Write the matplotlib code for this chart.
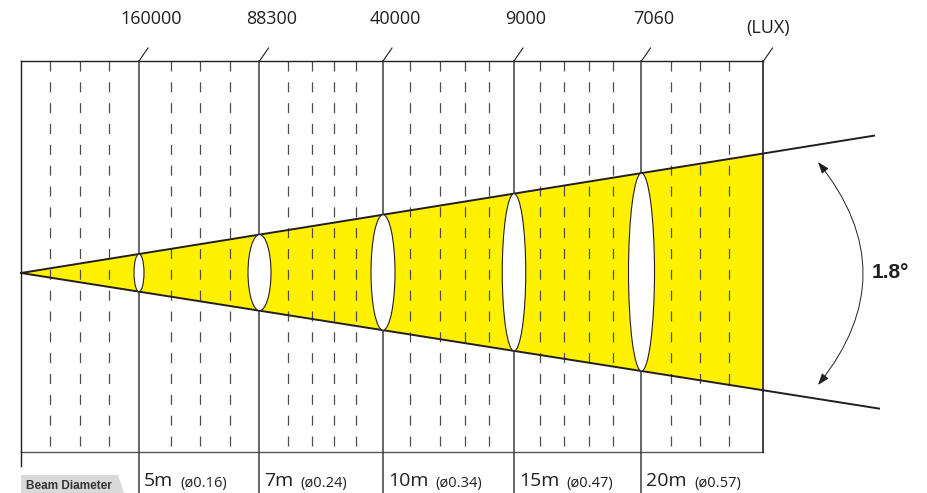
import matplotlib.pyplot as plt
from matplotlib.patches import Polygon, Ellipse

plt.rcParams["font.family"] = ["Open Sans", "DejaVu Sans"]
plt.rcParams["lines.scale_dashes"] = False

# chart content
lux = ["160000", "88300", "40000", "9000", "7060"]
lux_unit = "(LUX)"
distances = ["5m", "7m", "10m", "15m", "20m"]
diameters = ["(ø0.16)", "(ø0.24)", "(ø0.34)", "(ø0.47)", "(ø0.57)"]
beam_angle = "1.8°"
row_title = "Beam Diameter"

# layout, in pixels of the 927x493 canvas
col_x = [139, 259.5, 383, 514, 641.5]
left_x, right_x = 21, 763.5
top_y, bottom_y = 61, 451.5
dash_x = [50.5, 80, 109.5, 171, 200.5, 230, 288, 312, 334, 356,
          410, 440, 465, 489, 540, 564, 589, 613, 671, 700.5, 729.5]
ring_w = [10, 23, 24, 23.5, 26]
apex_x, apex_y = 21, 273
slope_up, slope_down = 0.161, 0.158
ray_end_up, ray_end_down = 874, 879

INK = "#231f20"
YELLOW = "#fff100"


def upper(x):
    return apex_y - slope_up * (x - apex_x)


def lower(x):
    return apex_y + slope_down * (x - apex_x)


fig = plt.figure(figsize=(9.27, 4.93), dpi=100)
ax = fig.add_axes([0, 0, 1, 1])
ax.set_xlim(0, 927)
ax.set_ylim(493, 0)
ax.axis("off")

# light cone
cone = Polygon([(apex_x, apex_y), (right_x, upper(right_x)), (right_x, lower(right_x))],
               closed=True, facecolor=YELLOW, edgecolor="none", zorder=1)
ax.add_patch(cone)

# dashed grid
for x in dash_x:
    ax.plot([x, x], [top_y, bottom_y], color="#4d4d4d", lw=0.9,
            dashes=(7.2, 7.8), zorder=2)

# frame
ax.plot([left_x, right_x], [top_y, top_y], color=INK, lw=1.0, zorder=3)
ax.plot([left_x, right_x], [bottom_y, bottom_y], color="#555555", lw=1.0, zorder=3)
ax.plot([left_x, left_x], [top_y, 466], color=INK, lw=1.0, zorder=3)
ax.plot([right_x, right_x], [top_y, bottom_y], color=INK, lw=1.2, zorder=3)

# distance columns
for x in col_x:
    ax.plot([x, x], [top_y, 493], color="#3d3d3d", lw=1.1, zorder=3)
for x in col_x + [right_x]:
    ax.plot([x, x + 9], [top_y, top_y - 13], color=INK, lw=0.8, zorder=3)

# beam edges
ax.plot([apex_x, ray_end_up], [apex_y, upper(ray_end_up)], color=INK, lw=1.4, zorder=4)
ax.plot([apex_x, ray_end_down], [apex_y, lower(ray_end_down)], color=INK, lw=1.4, zorder=4)

# beam cross sections
for x, w in zip(col_x, ring_w):
    h = lower(x) - upper(x)
    ring = Ellipse((x, (upper(x) + lower(x)) / 2), w, h, facecolor="white",
                   edgecolor=INK, lw=0.8, zorder=5)
    ax.add_patch(ring)

# lux labels
for x, v in zip(col_x, lux):
    ax.text(x + 12, 19, v, ha="center", va="center", fontsize=13, color=INK)
ax.text(right_x + 5, 28, lux_unit, ha="center", va="center", fontsize=13, color=INK)

# distance labels
for x, d, dia in zip(col_x, distances, diameters):
    t = ax.text(x + 5, 486.5, d, ha="left", va="baseline", fontsize=14, color=INK)
    ax.annotate(dia, xy=(1, 486.5), xycoords=(t, "data"), xytext=(5, 0),
                textcoords="offset points", ha="left", va="baseline",
                fontsize=10.5, color=INK)

# row title tab
tab = Polygon([(21, 475), (118, 475), (124, 493), (21, 493)], closed=True,
              facecolor="#d9d9d9", edgecolor="none", zorder=2)
ax.add_patch(tab)
ax.text(26, 489, row_title, ha="left", va="baseline", fontsize=8.5,
        fontweight="bold", family="Liberation Sans", color="#333333", zorder=3)

# beam angle
ax.annotate("", xy=(818, 385), xytext=(818, 162),
            arrowprops=dict(arrowstyle="<|-|>,head_length=0.7,head_width=0.25",
                            connectionstyle="arc3,rad=-0.4", color=INK, lw=0.7,
                            mutation_scale=10, shrinkA=0, shrinkB=0))
ax.text(890, 272, beam_angle, ha="center", va="center", fontsize=15,
        fontweight="bold", family="Liberation Sans", color=INK)

fig.savefig("out.png", dpi=100)
